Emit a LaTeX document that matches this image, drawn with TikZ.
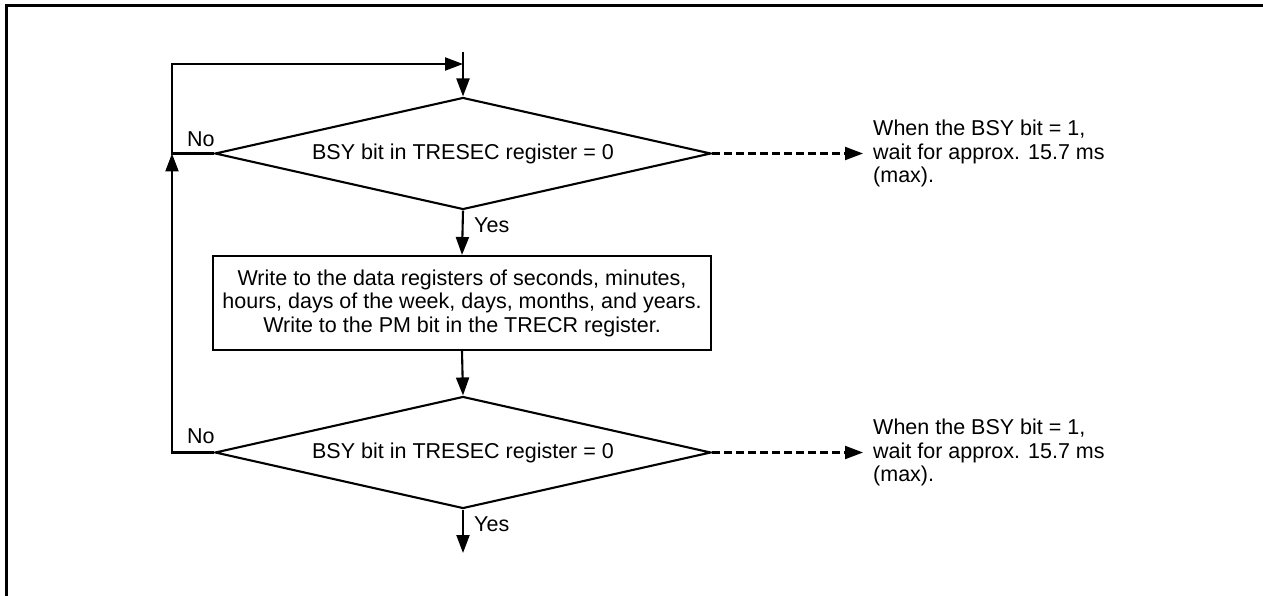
\documentclass[tikz,border=0pt]{standalone}
\usepackage{fontspec}
\setmainfont{Liberation Sans}
\usetikzlibrary{shapes.geometric,arrows.meta}
\tikzset{
  ln/.style={line width=2.1pt},
  arr/.style={ln,-{Triangle[length=18pt,width=13pt]}},
  dasharr/.style={arr,dash pattern=on 8pt off 4pt},
  decision/.style={shape=diamond,draw,ln,minimum width=496pt,minimum height=112pt,inner sep=0pt,aspect=4.4},
  process/.style={draw,ln,minimum width=498pt,minimum height=94pt,inner sep=0pt,align=center},
  lbl/.style={inner sep=0pt},
  note/.style={inner sep=0pt,align=left,anchor=north west},
  frame/.style={line width=3pt}
}
\begin{document}
\begin{tikzpicture}[x=1pt,y=-1pt,font=\fontsize{21.5}{23.5}\selectfont]
\useasboundingbox (0,0) rectangle (1263,596);
\draw[frame] (6,596) -- (6,5.5) -- (1263,5.5);

\node[decision] (d1) at (463,153.5) {BSY bit in TRESEC register = 0};
\node[process] (p) at (462,303) {Write to the data registers of seconds, minutes,\\hours, days of the week, days, months, and years.\\Write to the PM bit in the TRECR register.};
\node[decision] (d2) at (463,452.5) {BSY bit in TRESEC register = 0};

\coordinate (in) at (463,52);
\coordinate (join) at (463,64);
\coordinate (lt) at (172,64);
\coordinate (l1) at (172,153.5);
\coordinate (l2) at (172,452.5);
\coordinate (out) at (463,553);
\coordinate (r1) at (863,153.5);
\coordinate (r2) at (863,452.5);

\draw[arr] (in) -- (d1.north);
\draw[arr] (d1.south) -- (p.north);
\draw[arr] (p.south) -- (d2.north);
\draw[arr] (d2.south) -- (out);
\draw[arr] (d1.west) -- (l1) -- (lt) -- (join);
\draw[arr] (d2.west) -- (l2) -- (l1);
\draw[dasharr] (d1.east) -- (r1);
\draw[dasharr] (d2.east) -- (r2);

\node[lbl,anchor=base west] (no1) at (187,147) {No};
\node[lbl,anchor=base west] (no2) at (187,443) {No};
\node[lbl,anchor=base west] (yes1) at (474,232) {Yes};
\node[lbl,anchor=base west] (yes2) at (474,531) {Yes};

\node[note] (n1) at (873,120) {When the BSY bit = 1,\\wait for approx. 15.7 ms\\(max).};
\node[note] (n2) at (873,419) {When the BSY bit = 1,\\wait for approx. 15.7 ms\\(max).};
\end{tikzpicture}
\end{document}
